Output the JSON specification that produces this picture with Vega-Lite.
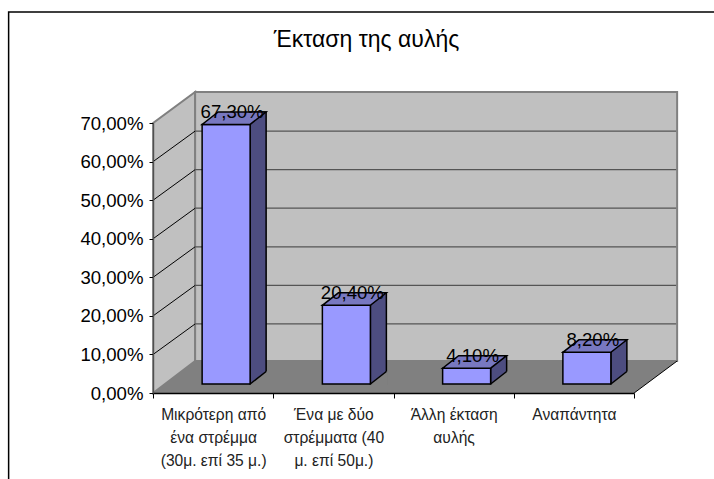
{
"$schema":"https://vega.github.io/schema/vega-lite/v6.json",
"width":481,"height":270,
"autosize":"none",
"padding":{"left":153,"top":123,"right":80,"bottom":86},
"background":"white",
"config":{"view":{"stroke":null},"locale":{"number":{"decimal":",","thousands":".","grouping":[3],"currency":["","€"]}},"font":"Liberation Sans"},
"title":{"text":"Έκταση της αυλής","font":"Liberation Sans","fontSize":23,"fontWeight":"normal","color":"#000000","anchor":"middle","dx":-27,"offset":0,"dy":43},
"datasets":{
"bars":[
{"cat":"Μικρότερη από|ένα στρέμμα|(30μ. επί 35 μ.)","value":0.673},
{"cat":"Ένα με δύο|στρέμματα (40|μ. επί 50μ.)","value":0.204},
{"cat":"Άλλη έκταση|αυλής","value":0.041},
{"cat":"Αναπάντητα","value":0.082}],
"floor":[
{"cat":"Μικρότερη από|ένα στρέμμα|(30μ. επί 35 μ.)","value":0},
{"cat":"Ένα με δύο|στρέμματα (40|μ. επί 50μ.)","value":0},
{"cat":"Άλλη έκταση|αυλής","value":0},
{"cat":"Αναπάντητα","value":0}],
"base":[{"cat":"Μικρότερη από|ένα στρέμμα|(30μ. επί 35 μ.)","value":0}],
"grid":[
{"cat":"Μικρότερη από|ένα στρέμμα|(30μ. επί 35 μ.)","value":0.1},
{"cat":"Μικρότερη από|ένα στρέμμα|(30μ. επί 35 μ.)","value":0.2},
{"cat":"Μικρότερη από|ένα στρέμμα|(30μ. επί 35 μ.)","value":0.3},
{"cat":"Μικρότερη από|ένα στρέμμα|(30μ. επί 35 μ.)","value":0.4},
{"cat":"Μικρότερη από|ένα στρέμμα|(30μ. επί 35 μ.)","value":0.5},
{"cat":"Μικρότερη από|ένα στρέμμα|(30μ. επί 35 μ.)","value":0.6}]
},
"encoding":{
"x":{"field":"cat","type":"nominal","sort":null,"scale":{"type":"band","paddingInner":0,"paddingOuter":0,"domain":["Μικρότερη από|ένα στρέμμα|(30μ. επί 35 μ.)","Ένα με δύο|στρέμματα (40|μ. επί 50μ.)","Άλλη έκταση|αυλής","Αναπάντητα"]},
 "axis":{"title":null,"orient":"bottom","zindex":1,"tickBand":"extent","labelAngle":0,"labelAlign":"center","labelBaseline":"top","labelExpr":"split(datum.label,'|')","labelFont":"Liberation Sans","labelFontSize":15.6,"labelColor":"#222222","labelLineHeight":23.3,"labelPadding":9,"labelLimit":300,"labelOverlap":false,"tickSize":5,"tickColor":"#000000","tickWidth":1,"domainColor":"#000000","domainWidth":1.3}},
"y":{"field":"value","type":"quantitative","stack":null,"scale":{"domain":[0,0.7],"nice":false,"zero":true},
 "axis":{"title":null,"orient":"left","zindex":1,"grid":false,"values":[0,0.1,0.2,0.3,0.4,0.5,0.6,0.7],"format":".2%","labelFont":"Liberation Sans","labelFontSize":18.6,"labelColor":"#000000","labelPadding":6,"tickSize":4,"tickColor":"#000000","tickWidth":1,"domainColor":"#505050","domainWidth":1.3}}
},
"layer":[
{"data":{"name":"base"},"mark":{"type":"point","filled":false,"opacity":1,"size":4,"stroke":"#000000","strokeWidth":1.5,"shape":"M-204.5,86 L-204.5,-381 L501,-381"}},
{"data":{"name":"base"},"mark":{"type":"point","filled":true,"opacity":1,"size":4,"fill":"#c0c0c0","stroke":"#808080","strokeWidth":2,"shape":"M-60,0 L-18,-32 L-18,-301 L-60,-270 Z"}},
{"data":{"name":"base"},"mark":{"type":"point","filled":true,"opacity":1,"size":4,"fill":"#c0c0c0","stroke":"#808080","strokeWidth":2,"shape":"M-18,-32 L464,-32 L464,-301 L-18,-301 Z"}},
{"data":{"name":"base"},"mark":{"type":"point","filled":true,"opacity":1,"size":4,"fill":"#808080","strokeWidth":0,"shape":"M-60,0 L421,0 L464,-32 L-18,-32 Z"}},
{"data":{"name":"base"},"mark":{"type":"point","filled":false,"opacity":1,"size":4,"stroke":"#000000","strokeWidth":1,"shape":"M421,0 L464,-32"}},
{"data":{"name":"grid"},"mark":{"type":"point","filled":false,"opacity":1,"size":4,"stroke":"#000000","strokeWidth":1,"shape":"M-60,0 L-18,-30.5"}},
{"data":{"name":"grid"},"mark":{"type":"point","filled":false,"opacity":1,"size":4,"stroke":"#555555","strokeWidth":1.3,"shape":"M-18,-30.5 L463,-30.5"}},
{"data":{"name":"bars"},"mark":{"type":"bar","size":16,"xOffset":45,"yOffset":-21.5,"y2Offset":-9,"fill":"#4d4d80","stroke":"#000000","strokeWidth":1.5},"encoding":{"y2":{"datum":0}}},
{"data":{"name":"floor"},"mark":{"type":"point","filled":true,"opacity":1,"size":4,"fill":"#808080","strokeWidth":0,"shape":"M37,-9 L53,-21.5 L54.5,-21.5 L54.5,-7.5 L37,-7.5 Z"}},
{"data":{"name":"floor"},"mark":{"type":"point","filled":false,"opacity":1,"size":4,"stroke":"#000000","strokeWidth":1.5,"shape":"M37,-9 L53,-21.5"}},
{"data":{"name":"bars"},"mark":{"type":"bar","size":48,"xOffset":13,"yOffset":-9,"y2Offset":-9,"fill":"#9999ff","stroke":"#000000","strokeWidth":1.5},"encoding":{"y2":{"datum":0}}},
{"data":{"name":"bars"},"mark":{"type":"point","filled":true,"opacity":1,"size":4,"fill":"#7878c0","stroke":"#000000","strokeWidth":1.5,"shape":"M-11,-9 L37,-9 L53,-21.5 L5,-21.5 Z"}},
{"data":{"name":"bars"},"mark":{"type":"text","font":"Liberation Sans","fontSize":18.6,"dx":19,"dy":-15,"baseline":"alphabetic","align":"center","fill":"#000000"},"encoding":{"text":{"field":"value","type":"quantitative","format":".2%"}}}
]
}
